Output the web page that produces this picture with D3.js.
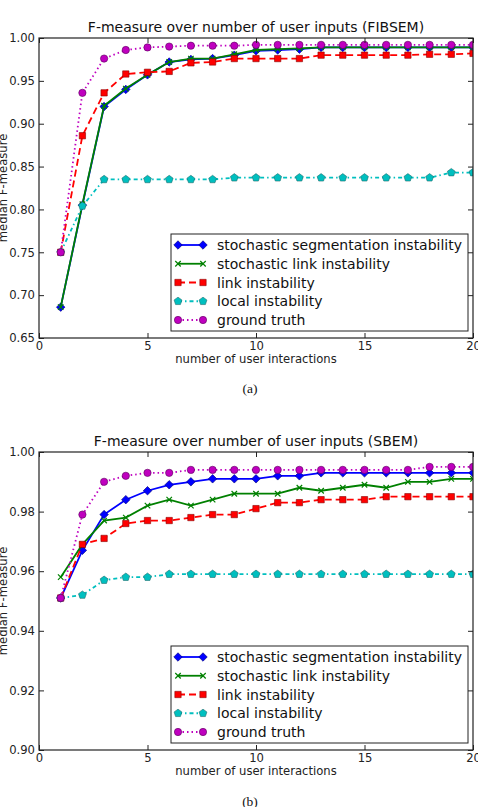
<!DOCTYPE html>
<html>
<head>
<meta charset="utf-8">
<script src="https://cdn.jsdelivr.net/npm/d3@7"></script>
<style>
  body { margin: 0; background: #fff; }
  svg { display: block; font-family: "DejaVu Sans", sans-serif; }
</style>
</head>
<body>
<div id="chart"></div>
<script>
// Canvas size
const width = 478;
const height = 807;

// Data: number of user interactions (x) and median F-measure per method
const interactions = [1, 2, 3, 4, 5, 6, 7, 8, 9, 10, 11, 12, 13, 14, 15, 16, 17, 18, 19, 20];
const seriesNames = [
    "stochastic segmentation instability",
    "stochastic link instability",
    "link instability",
    "local instability",
    "ground truth"
];
const xTicks = [0, 5, 10, 15, 20];

// FIBSEM panel
const fibTitle = "F-measure over number of user inputs (FIBSEM)";
const fibYTicks = [0.65, 0.70, 0.75, 0.80, 0.85, 0.90, 0.95, 1.00];
const fibStochSeg  = [0.686, 0.805, 0.920, 0.940, 0.957, 0.972, 0.975, 0.976, 0.980, 0.985, 0.986, 0.987, 0.989, 0.989, 0.989, 0.989, 0.989, 0.989, 0.989, 0.989];
const fibStochLink = [0.686, 0.806, 0.921, 0.941, 0.957, 0.972, 0.976, 0.976, 0.981, 0.986, 0.987, 0.988, 0.989, 0.989, 0.989, 0.989, 0.989, 0.989, 0.989, 0.989];
const fibLink      = [0.750, 0.886, 0.936, 0.958, 0.960, 0.961, 0.971, 0.972, 0.976, 0.976, 0.976, 0.976, 0.980, 0.980, 0.980, 0.980, 0.980, 0.981, 0.981, 0.982];
const fibLocal     = [0.750, 0.804, 0.835, 0.835, 0.835, 0.835, 0.835, 0.835, 0.837, 0.837, 0.837, 0.837, 0.837, 0.837, 0.837, 0.837, 0.837, 0.837, 0.843, 0.843];
const fibTruth     = [0.750, 0.936, 0.976, 0.986, 0.989, 0.990, 0.991, 0.991, 0.991, 0.992, 0.992, 0.992, 0.992, 0.992, 0.992, 0.992, 0.992, 0.992, 0.992, 0.992];

// SBEM panel
const sbemTitle = "F-measure over number of user inputs (SBEM)";
const sbemYTicks = [0.90, 0.92, 0.94, 0.96, 0.98, 1.00];
const sbemStochSeg  = [0.951, 0.967, 0.979, 0.984, 0.987, 0.989, 0.990, 0.991, 0.991, 0.991, 0.992, 0.992, 0.993, 0.993, 0.993, 0.993, 0.993, 0.993, 0.993, 0.993];
const sbemStochLink = [0.958, 0.969, 0.977, 0.978, 0.982, 0.984, 0.982, 0.984, 0.986, 0.986, 0.986, 0.988, 0.987, 0.988, 0.989, 0.988, 0.990, 0.990, 0.991, 0.991];
const sbemLink      = [0.951, 0.969, 0.971, 0.976, 0.977, 0.977, 0.978, 0.979, 0.979, 0.981, 0.983, 0.983, 0.984, 0.984, 0.984, 0.985, 0.985, 0.985, 0.985, 0.985];
const sbemLocal     = [0.951, 0.952, 0.957, 0.958, 0.958, 0.959, 0.959, 0.959, 0.959, 0.959, 0.959, 0.959, 0.959, 0.959, 0.959, 0.959, 0.959, 0.959, 0.959, 0.959];
const sbemTruth     = [0.951, 0.979, 0.990, 0.992, 0.993, 0.993, 0.994, 0.994, 0.994, 0.994, 0.994, 0.994, 0.994, 0.994, 0.994, 0.994, 0.994, 0.995, 0.995, 0.995];

// Custom marker shapes (matplotlib style)
const symbolPentagon = {
    draw(context, size) {
        const r = Math.sqrt(size / 2.378);
        for (let i = 0; i < 5; i++) {
            const a = -Math.PI / 2 + i * 2 * Math.PI / 5;
            const px = r * Math.cos(a), py = r * Math.sin(a);
            if (i === 0) context.moveTo(px, py); else context.lineTo(px, py);
        }
        context.closePath();
    }
};
const symbolCross = {
    draw(context, size) {
        const r = Math.sqrt(size) / 2;
        context.moveTo(-r, -r); context.lineTo(r, r);
        context.moveTo(r, -r); context.lineTo(-r, r);
    }
};

// Line/marker styles for the five methods
const styles = [
    { color: "#0000ff", edge: "#00007a", dash: null,        marker: d3.symbolSquare, size: 36, rotate: 45, filled: true },
    { color: "#008000", edge: "#008000", dash: null,        marker: symbolCross,     size: 30, rotate: 0,  filled: false },
    { color: "#ff0000", edge: "#8a0000", dash: "7,4",       marker: d3.symbolSquare, size: 40, rotate: 0,  filled: true },
    { color: "#00bfbf", edge: "#1f6f6f", dash: "4,3,1.5,3", marker: symbolPentagon,  size: 40, rotate: 0,  filled: true },
    { color: "#bf00bf", edge: "#5a005a", dash: "1.5,3",     marker: d3.symbolCircle, size: 42, rotate: 0,  filled: true }
];

const svg = d3.select("#chart")
    .append("svg")
    .attr("width", width)
    .attr("height", height);

function markerPath(st) {
    return d3.symbol().type(st.marker).size(st.size)();
}

function styleMarker(sel, st) {
    sel.attr("d", markerPath(st))
        .attr("fill", st.filled ? st.color : "none")
        .attr("stroke", st.filled ? st.edge : st.color)
        .attr("stroke-width", st.filled ? 0.6 : 1.2);
}

function drawPanel(cfg) {
    const g = svg.append("g");
    const x = d3.scaleLinear().domain([0, 20]).range([cfg.left, cfg.right]);
    const y = d3.scaleLinear().domain([cfg.yTicks[0], cfg.yTicks[cfg.yTicks.length - 1]]).range([cfg.bottom, cfg.top]);

    // clip to axes area
    g.append("clipPath").attr("id", cfg.id + "-clip")
        .append("rect")
        .attr("x", cfg.left).attr("y", cfg.top)
        .attr("width", cfg.right - cfg.left).attr("height", cfg.bottom - cfg.top);

    const plot = g.append("g").attr("clip-path", `url(#${cfg.id}-clip)`);

    const line = d3.line().x(d => x(d[0])).y(d => y(d[1]));

    cfg.series.forEach((vals, i) => {
        const st = styles[i];
        const pts = interactions.map((n, j) => [n, vals[j]]);
        plot.append("path")
            .datum(pts)
            .attr("d", line)
            .attr("fill", "none")
            .attr("stroke", st.color)
            .attr("stroke-width", 1.8)
            .attr("stroke-dasharray", st.dash);
        plot.selectAll(null)
            .data(pts)
            .join("path")
            .attr("transform", d => `translate(${x(d[0])},${y(d[1])}) rotate(${st.rotate})`)
            .call(styleMarker, st);
    });

    // axes with inward ticks on all four sides
    const fontSize = "11.6px";
    const xAxis = g.append("g")
        .attr("transform", `translate(0,${cfg.bottom})`)
        .call(d3.axisBottom(x).tickValues(xTicks).tickSize(-5).tickPadding(4).tickFormat(d3.format("d")));
    const yAxis = g.append("g")
        .attr("transform", `translate(${cfg.left},0)`)
        .call(d3.axisLeft(y).tickValues(cfg.yTicks).tickSize(-5).tickPadding(4).tickFormat(d3.format(".2f")));
    const xTop = g.append("g")
        .attr("transform", `translate(0,${cfg.top})`)
        .call(d3.axisTop(x).tickValues(xTicks).tickSize(-5).tickFormat(""));
    const yRight = g.append("g")
        .attr("transform", `translate(${cfg.right},0)`)
        .call(d3.axisRight(y).tickValues(cfg.yTicks).tickSize(-5).tickFormat(""));

    [xAxis, yAxis, xTop, yRight].forEach(a => {
        a.select(".domain").remove();
        a.selectAll(".tick line").attr("stroke", "#222").attr("stroke-width", 1);
        a.selectAll("text")
            .attr("font-family", "DejaVu Sans, sans-serif")
            .style("font-size", fontSize)
            .attr("fill", "#222");
    });

    // frame
    g.append("rect")
        .attr("x", cfg.left).attr("y", cfg.top)
        .attr("width", cfg.right - cfg.left).attr("height", cfg.bottom - cfg.top)
        .attr("fill", "none")
        .attr("stroke", "#222")
        .attr("stroke-width", 1.2);

    // title
    g.append("text")
        .attr("x", (cfg.left + cfg.right) / 2)
        .attr("y", cfg.top - 6)
        .attr("text-anchor", "middle")
        .style("font-size", "14px")
        .attr("fill", "#111")
        .text(cfg.title);

    // axis labels
    g.append("text")
        .attr("x", (cfg.left + cfg.right) / 2)
        .attr("y", cfg.bottom + 25)
        .attr("text-anchor", "middle")
        .style("font-size", fontSize)
        .attr("fill", "#222")
        .text("number of user interactions");

    g.append("text")
        .attr("text-anchor", "middle")
        .attr("transform", `translate(7, ${(cfg.top + cfg.bottom) / 2}) rotate(-90)`)
        .style("font-size", fontSize)
        .attr("fill", "#222")
        .text("median F-measure");

    // legend (lower right)
    const lw = 297, lh = 97;
    const lx = cfg.right - 5 - lw, ly = cfg.bottom - 7 - lh;
    const legend = g.append("g").attr("transform", `translate(${lx},${ly})`);
    legend.append("rect")
        .attr("width", lw).attr("height", lh)
        .attr("fill", "#fff")
        .attr("stroke", "#222")
        .attr("stroke-width", 1);

    seriesNames.forEach((name, i) => {
        const st = styles[i];
        const cy = 11 + i * 18.75;
        const row = legend.append("g").attr("transform", `translate(0,${cy})`);
        row.append("line")
            .attr("x1", 7).attr("x2", 32)
            .attr("stroke", st.color)
            .attr("stroke-width", 1.8)
            .attr("stroke-dasharray", st.dash);
        [7, 32].forEach(mx => {
            row.append("path")
                .attr("transform", `translate(${mx},0) rotate(${st.rotate})`)
                .call(styleMarker, st);
        });
        row.append("text")
            .attr("x", 46)
            .attr("y", 5)
            .style("font-size", "14px")
            .attr("fill", "#111")
            .text(name);
    });

    // sub-caption
    g.append("text")
        .attr("x", 250)
        .attr("y", cfg.captionY)
        .attr("text-anchor", "middle")
        .attr("font-family", "Liberation Serif, Times New Roman, serif")
        .style("font-size", "13.5px")
        .attr("fill", "#111")
        .text(cfg.caption);
}

drawPanel({
    id: "fib", title: fibTitle, caption: "(a)", captionY: 393,
    left: 39, right: 473, top: 38, bottom: 338,
    yTicks: fibYTicks,
    series: [fibStochSeg, fibStochLink, fibLink, fibLocal, fibTruth]
});

drawPanel({
    id: "sbem", title: sbemTitle, caption: "(b)", captionY: 806,
    left: 39, right: 473, top: 452, bottom: 750,
    yTicks: sbemYTicks,
    series: [sbemStochSeg, sbemStochLink, sbemLink, sbemLocal, sbemTruth]
});
</script>
</body>
</html>
